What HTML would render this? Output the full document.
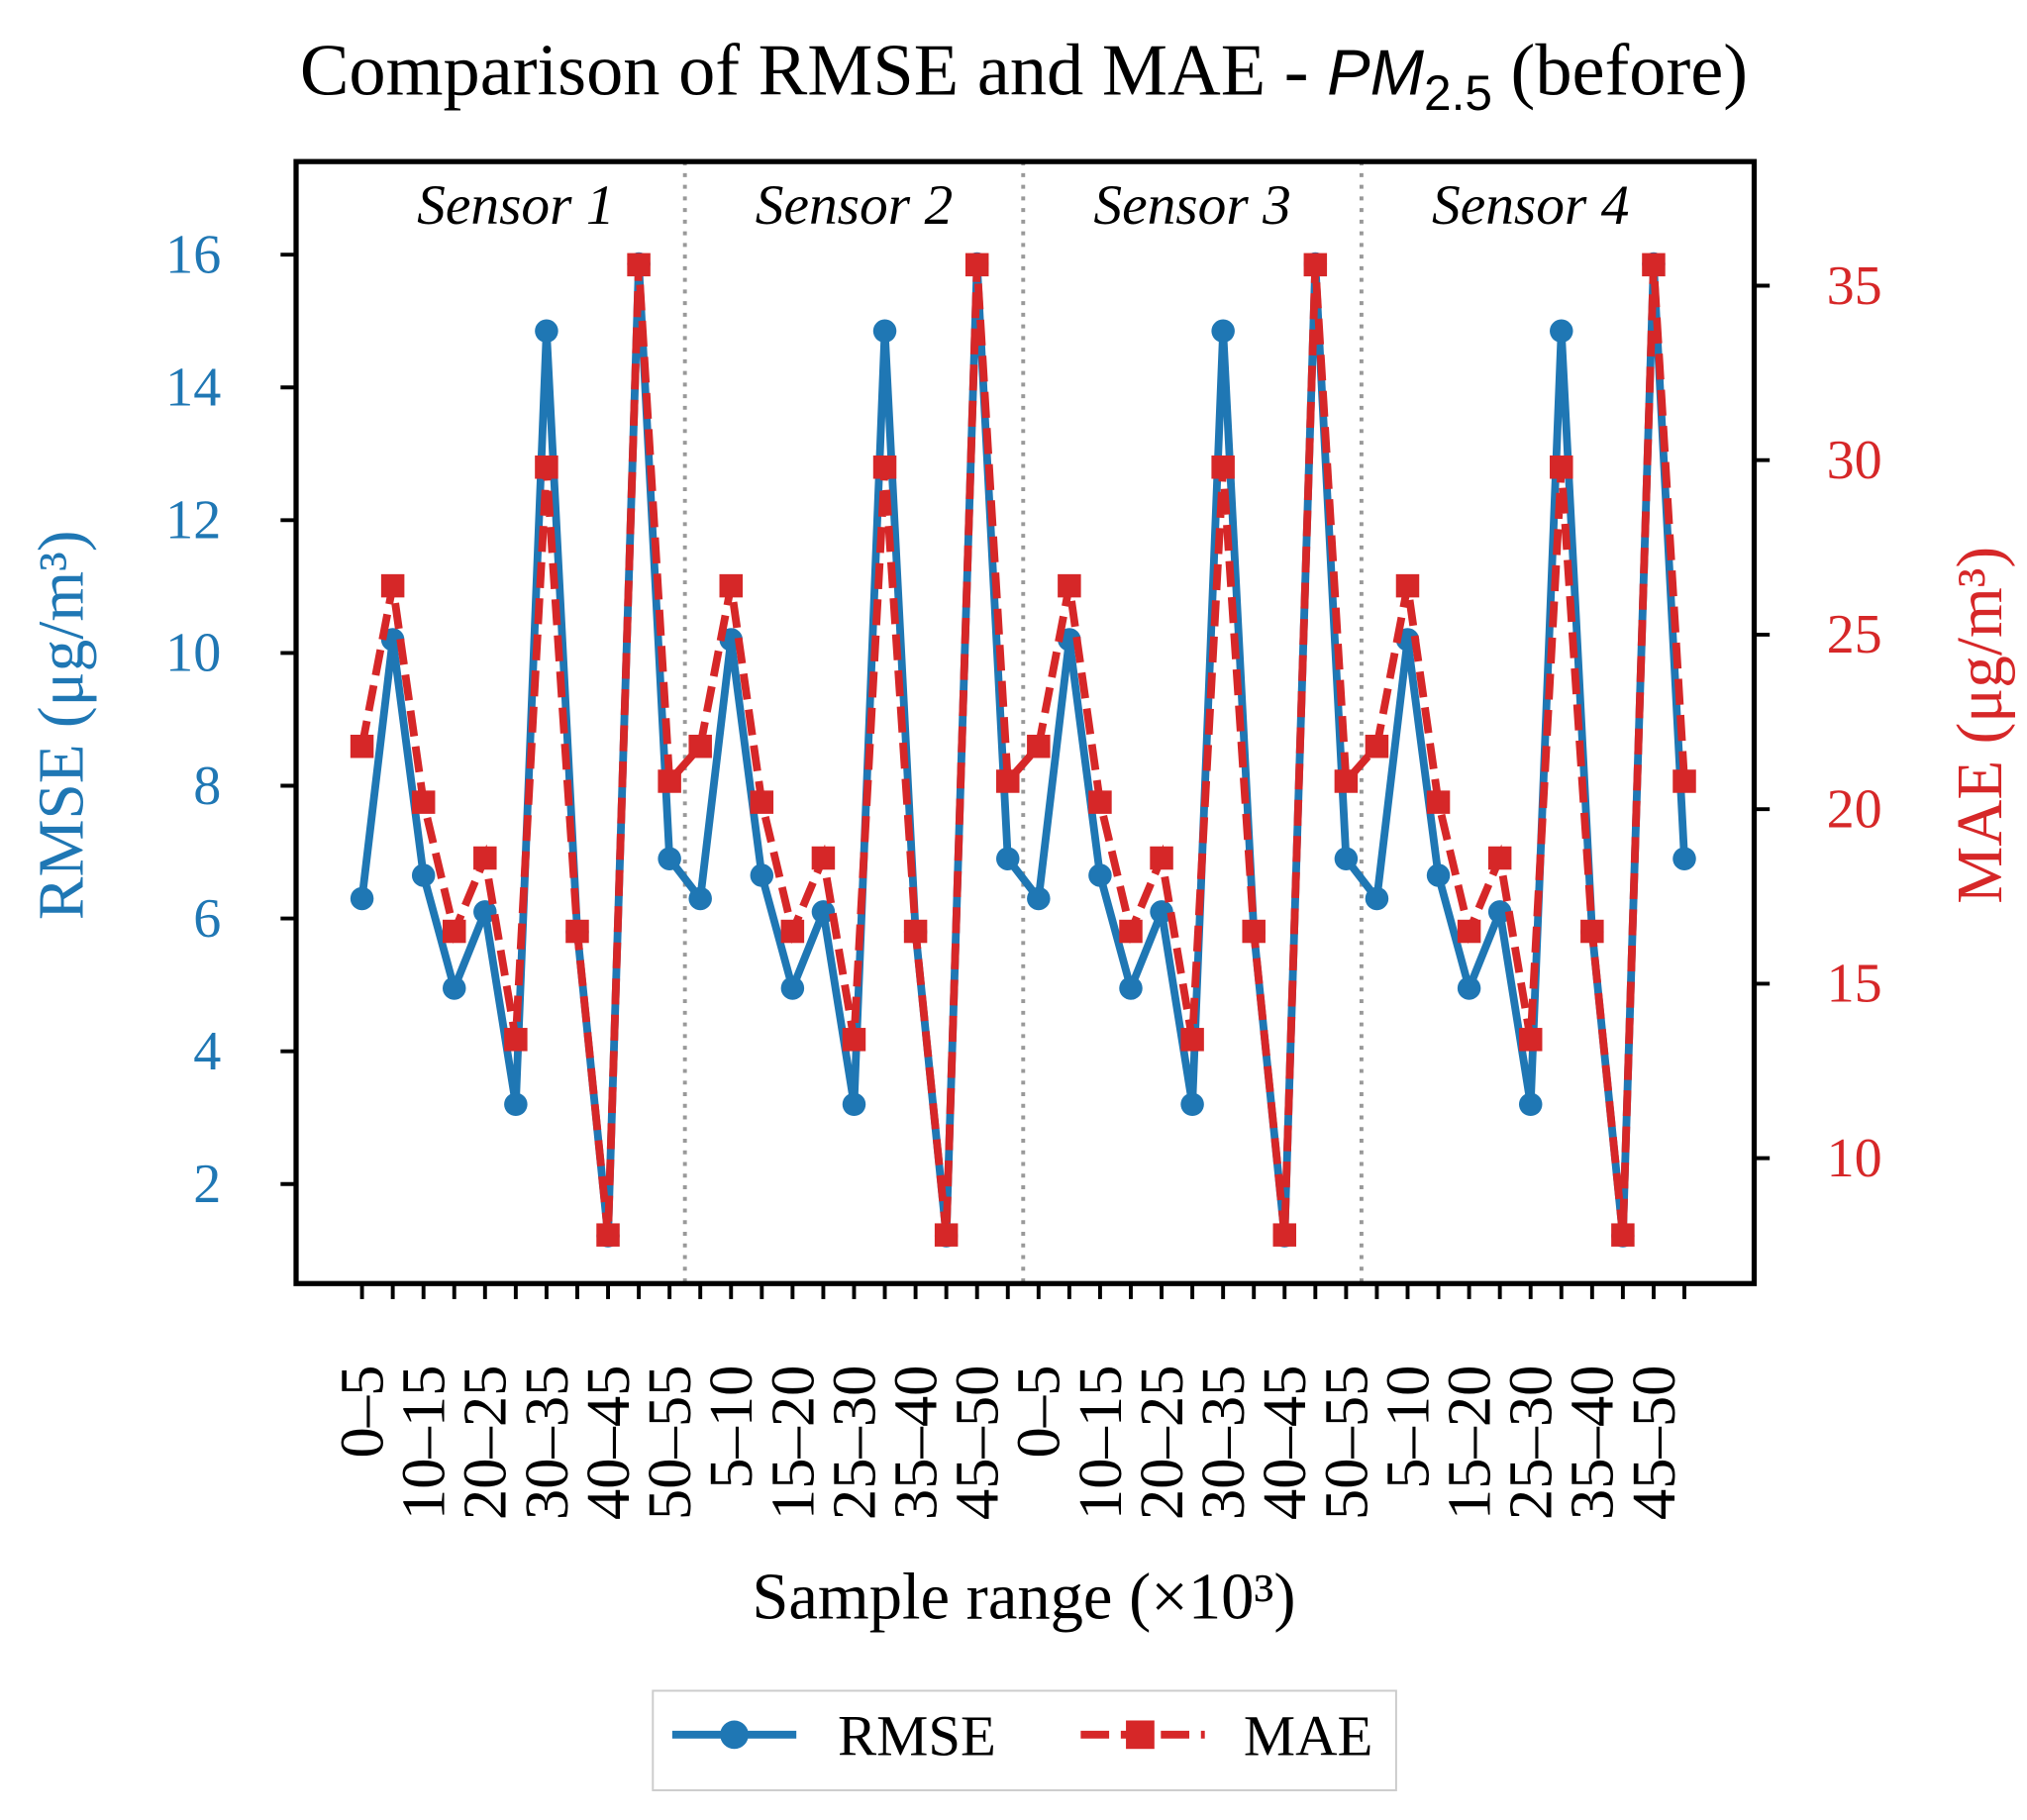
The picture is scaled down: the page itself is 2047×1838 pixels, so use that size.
<!DOCTYPE html>
<html><head><meta charset="utf-8"><style>
html,body{margin:0;padding:0;background:#fff;}
svg{display:block;font-family:"Liberation Serif",serif;}
</style></head><body>
<svg id="chart" width="2047" height="1838" viewBox="0 0 1568 1408" xmlns="http://www.w3.org/2000/svg">
<text x="792" y="73" font-size="57" text-anchor="middle">Comparison of RMSE and MAE - <tspan font-family="Liberation Sans, sans-serif" font-style="italic" font-size="50">PM</tspan><tspan font-family="Liberation Sans, sans-serif" font-size="38" dy="12">2.5</tspan><tspan dy="-12"> (before)</tspan></text>
<g id="plot"></g>
<text transform="translate(64,561) rotate(-90)" font-size="50" fill="#1f77b4" text-anchor="middle">RMSE (μg/m³)</text>
<text transform="translate(1548,561) rotate(-90)" font-size="50" fill="#d62728" text-anchor="middle">MAE (μg/m³)</text>
<text x="792" y="1252" font-size="51" text-anchor="middle">Sample range (×10³)</text>
<g>
<rect x="505" y="1308" width="575" height="77" fill="#fff" stroke="#ccc" stroke-width="1.5"/>
<line x1="520" y1="1342" x2="616" y2="1342" stroke="#1f77b4" stroke-width="6"/>
<circle cx="568" cy="1342" r="11" fill="#1f77b4"/>
<text x="648" y="1358" font-size="45">RMSE</text>
<line x1="836" y1="1342" x2="932" y2="1342" stroke="#d62728" stroke-width="6" stroke-dasharray="22,9"/>
<rect x="871" y="1331" width="22" height="22" fill="#d62728"/>
<text x="962" y="1358" font-size="45">MAE</text>
</g>
</svg>
<script>
const categories = ["0–5","5–10","10–15","15–20","20–25","25–30","30–35","35–40","40–45","45–50","50–55"];
const sensors = ["Sensor 1","Sensor 2","Sensor 3","Sensor 4"];
const rmseValues = [6.3,10.2,6.65,4.95,6.1,3.2,14.85,5.8,1.22,15.86,6.9];
const maeValues = [21.8,26.4,20.2,16.5,18.6,13.4,29.8,16.5,7.8,35.6,20.8];
const leftTicks = [2,4,6,8,10,12,14,16];
const rightTicks = [10,15,20,25,30,35];

const NS="http://www.w3.org/2000/svg";
const g=document.getElementById('plot');
function mk(tag,attrs,parent){const e=document.createElementNS(NS,tag);for(const k in attrs)e.setAttribute(k,attrs[k]);(parent||g).appendChild(e);return e;}
const L=229,R=1357,T=125,B=993;
const n=categories.length*sensors.length;
const x=i=>280+i*((1303-280)/(n-1));
const yL=v=>916-(v-2)*(916-197)/14;
const yR=v=>896-(v-10)*(896-221)/25;

for(let s=1;s<sensors.length;s++){
  const sx=(x(s*11-1)+x(s*11))/2;
  const l=mk('line',{x1:sx,x2:sx,y1:T,y2:B,stroke:'#999','stroke-width':3,'stroke-dasharray':'3,6'});
  
  
}
sensors.forEach((s,k)=>{
  const t=mk('text',{x:(x(k*11)+x(k*11+10))/2,y:173,'font-size':44,'font-style':'italic','text-anchor':'middle'});
  t.textContent=s;
  
  
});
leftTicks.forEach(v=>{
  mk('line',{x1:L-12,x2:L,y1:yL(v),y2:yL(v),stroke:'#000','stroke-width':3});
  const t=mk('text',{x:171,y:yL(v)+14,'font-size':43,fill:'#1f77b4','text-anchor':'end'});
  t.textContent=v;
  
  
});
rightTicks.forEach(v=>{
  mk('line',{x1:R,x2:R+12,y1:yR(v),y2:yR(v),stroke:'#000','stroke-width':3});
  const t=mk('text',{x:1413,y:yR(v)+14,'font-size':43,fill:'#d62728'});
  t.textContent=v;
  
  
});
for(let i=0;i<n;i++){
  mk('line',{x1:x(i),x2:x(i),y1:B,y2:B+12,stroke:'#000','stroke-width':3});
  if(i%2===0){
    const t=mk('text',{transform:`translate(${x(i)+16},1056) rotate(-90)`,'font-size':48,'text-anchor':'end'});
    t.textContent=categories[i%11];
    
    
  }
}
let rp=[],mp=[];
for(let i=0;i<n;i++){rp.push(x(i)+','+yL(rmseValues[i%11]));mp.push(x(i)+','+yR(maeValues[i%11]));}
const rl=mk('polyline',{points:rp.join(' '),fill:'none',stroke:'#1f77b4','stroke-width':6,'stroke-linejoin':'round'});


for(let i=0;i<n;i++){
  const c=mk('circle',{cx:x(i),cy:yL(rmseValues[i%11]),r:9,fill:'#1f77b4'});
  
  
}
const ml=mk('polyline',{points:mp.join(' '),fill:'none',stroke:'#d62728','stroke-width':6,'stroke-dasharray':'20,8'});


for(let i=0;i<n;i++){
  const r=mk('rect',{x:x(i)-9,y:yR(maeValues[i%11])-9,width:18,height:18,fill:'#d62728'});
  
  
}
const fr=mk('rect',{x:L,y:T,width:R-L,height:B-T,fill:'none',stroke:'#000','stroke-width':4});


</script>
</body></html>
